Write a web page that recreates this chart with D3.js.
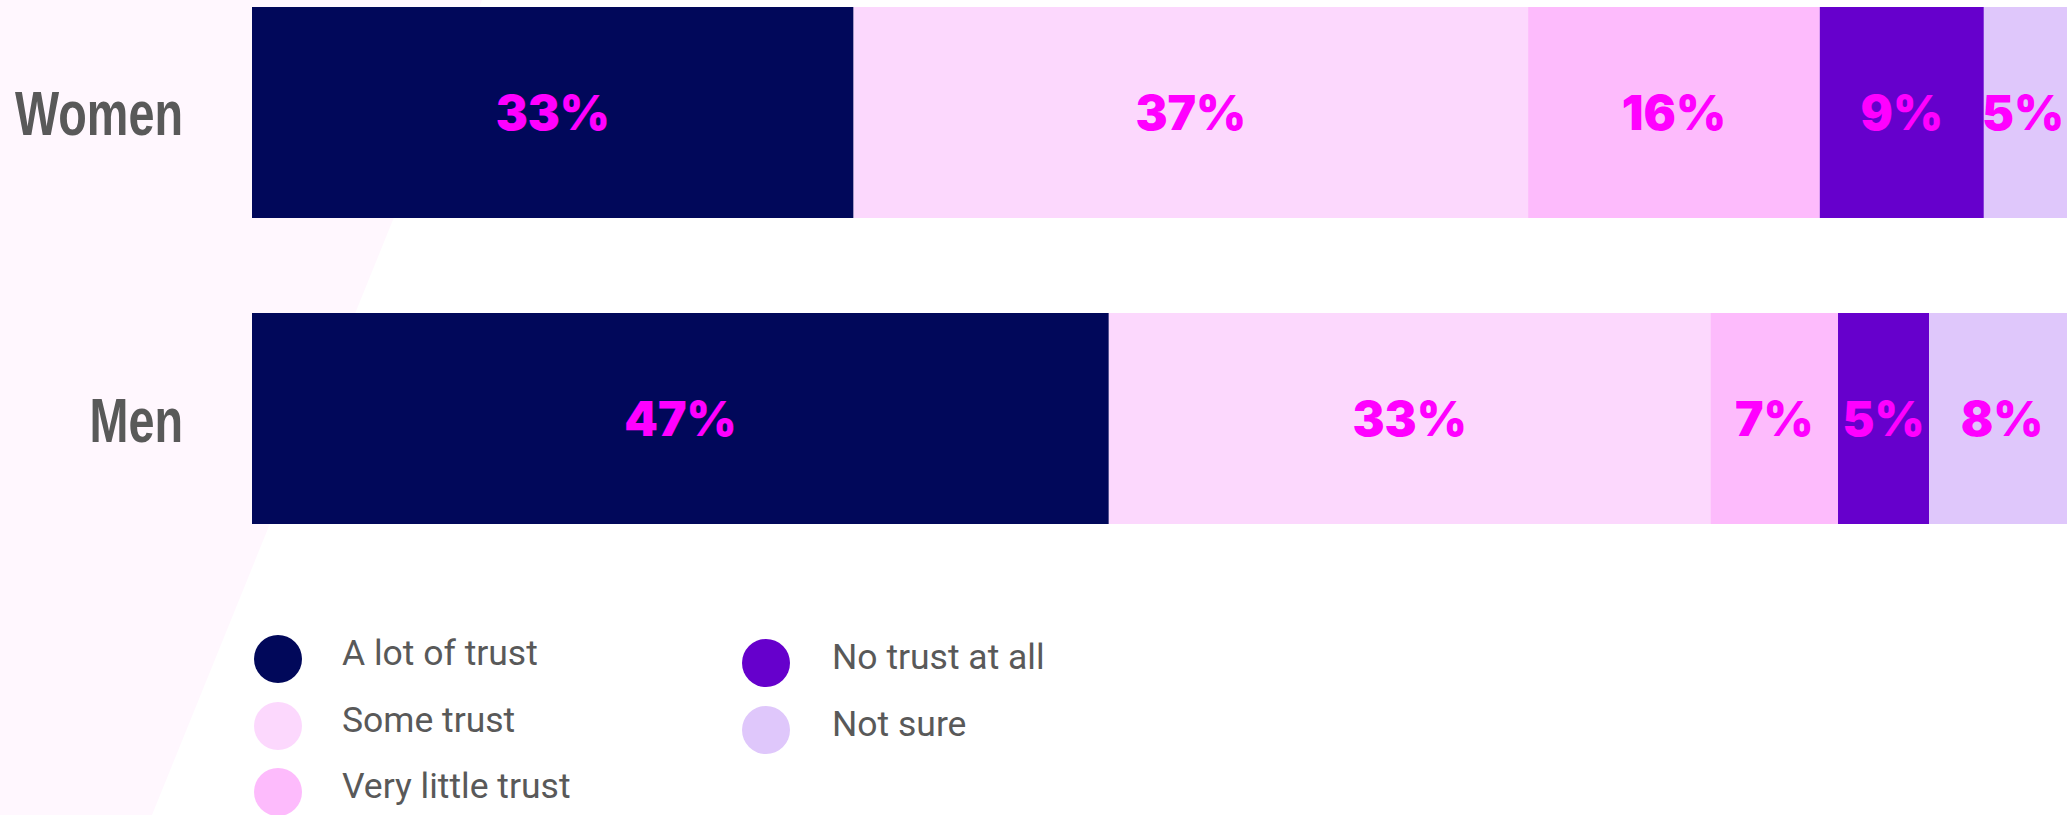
<!DOCTYPE html>
<html>
<head>
<meta charset="utf-8">
<script src="https://cdn.jsdelivr.net/npm/d3@7"></script>
<style>
  html, body { margin: 0; padding: 0; background: #ffffff; }
  svg { display: block; }
</style>
</head>
<body>
<svg id="chart" width="2067" height="815"></svg>
<script>
// Trust levels, in stacking order
const categories = ["A lot of trust", "Some trust", "Very little trust", "No trust at all", "Not sure"];
const groups = ["Women", "Men"];
// Share of respondents (%) per group, in the same order as categories
const womenValues = [33, 37, 16, 9, 5];
const menValues = [47, 33, 7, 5, 8];
const colors = ["#01085a", "#fcd8fd", "#fdbbfc", "#6600cc", "#dfc7fb"];

const W = 2067, H = 815;
const svg = d3.select("#chart");

// soft pink panel behind the group labels
svg.append("path")
  .attr("d", "M0,0 L482,0 L152,815 L0,815 Z")
  .attr("fill", "#fff7fe");

const x = d3.scaleLinear().domain([0, 100]).range([252, 2075]);
const y = d3.scaleBand().domain(groups).range([7, 524]).paddingInner(0.3105).paddingOuter(0);
const color = d3.scaleOrdinal().domain(categories).range(colors);

const rows = [
  { group: "Women", values: womenValues },
  { group: "Men", values: menValues }
].map(r => {
  let acc = 0;
  return {
    group: r.group,
    segs: r.values.map((v, i) => {
      const s = { key: categories[i], value: v, x0: acc, x1: acc + v };
      acc += v;
      return s;
    })
  };
});

const row = svg.selectAll("g.row").data(rows).join("g")
  .attr("class", "row")
  .attr("transform", d => `translate(0,${y(d.group)})`);

row.selectAll("rect").data(d => d.segs).join("rect")
  .attr("x", d => x(d.x0))
  .attr("width", d => x(d.x1) - x(d.x0))
  .attr("y", 0)
  .attr("height", y.bandwidth())
  .attr("fill", d => color(d.key));

const vals = row.selectAll("text.val").data(d => d.segs).join("text")
  .attr("class", "val")
  .attr("y", y.bandwidth() / 2)
  .attr("dy", "0.36em")
  .attr("text-anchor", "middle")
  .attr("font-family", "Inter, 'Noto Sans', sans-serif")
  .attr("font-weight", 900)
  .attr("font-size", 48)
  .attr("fill", "#ff00ff")
  .text(d => d.value + "%");

// centre each value in its segment, but keep it inside the drawing
vals.attr("x", function (d) {
  const half = this.getComputedTextLength() / 2;
  const c = (x(d.x0) + x(d.x1)) / 2;
  return Math.min(c, W - half - 3);
});

// group labels, condensed
const glab = row.append("text")
  .attr("class", "grp")
  .attr("x", 0)
  .attr("y", 0)
  .attr("text-anchor", "end")
  .attr("font-family", "'Liberation Sans Narrow', 'Liberation Sans', sans-serif")
  .attr("font-weight", "bold")
  .attr("font-size", 63)
  .attr("fill", "#595959")
  .text(d => d.group);

const wNode = glab.filter(d => d.group === "Women").node();
const k = 168 / wNode.getComputedTextLength();
glab.attr("transform", `translate(183,${y.bandwidth() / 2 + 23}) scale(${k},1)`);

// legend
const legendPos = [
  { cx: 278, cy: 659, tx: 342 },
  { cx: 278, cy: 726, tx: 342 },
  { cx: 278, cy: 792, tx: 342 },
  { cx: 766, cy: 663, tx: 832 },
  { cx: 766, cy: 730, tx: 832 }
];
const leg = svg.selectAll("g.leg").data(categories).join("g").attr("class", "leg");
leg.append("circle")
  .attr("cx", (d, i) => legendPos[i].cx)
  .attr("cy", (d, i) => legendPos[i].cy)
  .attr("r", 24)
  .attr("fill", d => color(d));
leg.append("text")
  .attr("x", (d, i) => legendPos[i].tx)
  .attr("y", (d, i) => legendPos[i].cy + 6)
  .attr("font-family", "Roboto, sans-serif")
  .attr("font-size", 35.5)
  .attr("fill", "#595959")
  .text(d => d);
</script>
</body>
</html>
